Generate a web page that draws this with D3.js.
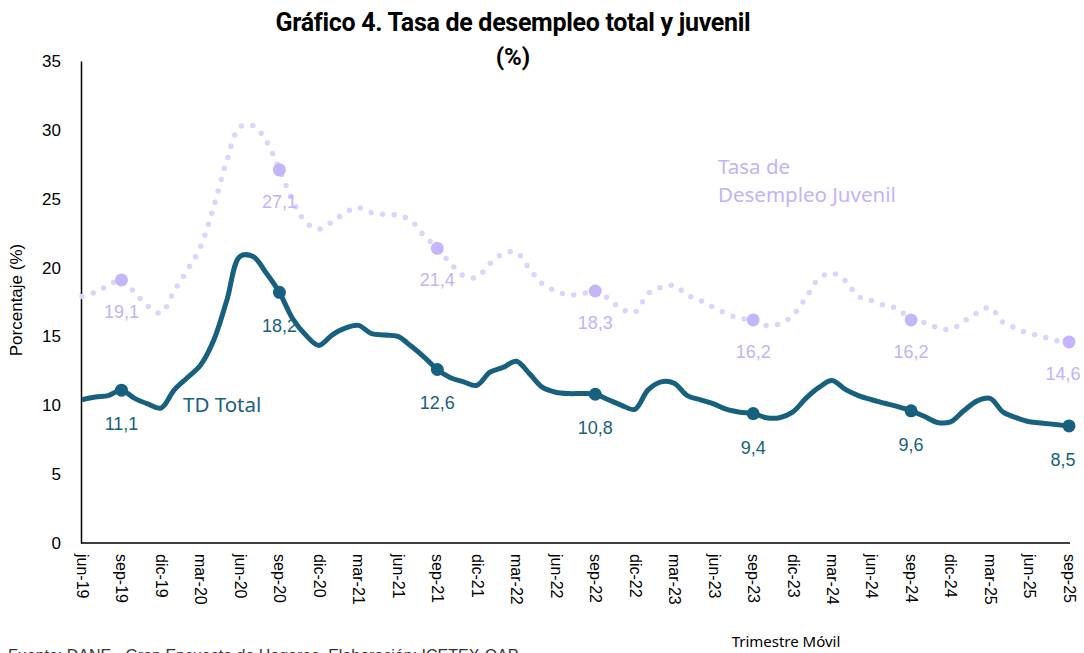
<!DOCTYPE html>
<html>
<head>
<meta charset="utf-8">
<script src="https://cdn.jsdelivr.net/npm/d3@7"></script>
<style>
  body { margin: 0; background: #fff; }
  svg { display: block; }
</style>
</head>
<body>
<div id="chart"></div>
<script>
// categories: moving quarter, jun-19 .. sep-25
var mesesAbrev = ["ene","feb","mar","abr","may","jun","jul","ago","sep","oct","nov","dic"]
var meses = []
for (var a = 2019; a <= 2025; a++) {
  for (var m = 0; m < 12; m++) {
    if (a == 2019 && m < 5) continue
    if (a == 2025 && m > 8) continue
    meses.push(mesesAbrev[m] + "-" + String(a).slice(2))
  }
}
var mesesEje = ["jun-19","sep-19","dic-19","mar-20","jun-20","sep-20","dic-20","mar-21","jun-21","sep-21","dic-21","mar-22",
  "jun-22","sep-22","dic-22","mar-23","jun-23","sep-23","dic-23","mar-24","jun-24","sep-24","dic-24","mar-25","jun-25","sep-25"]

// TD total (%)
var tdTotal = [
  10.4, 10.6, 10.7, 11.1, 10.5, 10.1, 9.8,
  11.1, 12.0, 12.9, 14.7, 17.6, 20.8, 20.8, 19.6, 18.2, 16.3, 15.1, 14.35,
  15.1, 15.6, 15.8, 15.2, 15.1, 15.0, 14.3, 13.5, 12.6, 12.0, 11.7, 11.45,
  12.4, 12.75, 13.2, 12.3, 11.3, 10.95, 10.85, 10.85, 10.8, 10.4, 10.0, 9.7,
  11.1, 11.7, 11.6, 10.7, 10.4, 10.1, 9.7, 9.5, 9.4, 9.1, 9.1, 9.5,
  10.5, 11.3, 11.8, 11.15, 10.7, 10.4, 10.15, 9.9, 9.6, 9.2, 8.75, 8.8,
  9.6, 10.3, 10.5, 9.5, 9.1, 8.8, 8.7, 8.6, 8.5
]

// Tasa de desempleo juvenil (%)
var tdJuvenil = [
  17.9, 18.2, 18.7, 19.1, 18.2, 17.2, 16.7,
  18.3, 19.8, 21.5, 24.4, 27.75, 30.2, 30.3, 29.2, 27.1, 24.9, 23.3, 22.8,
  23.3, 24.0, 24.35, 24.0, 23.85, 23.8, 23.4, 22.3, 21.4, 20.3, 19.4, 19.3,
  20.3, 21.0, 21.1, 19.9, 18.8, 18.3, 18.0, 18.1, 18.3, 17.75, 17.0, 16.75,
  18.1, 18.55, 18.7, 18.0, 17.6, 17.1, 16.65, 16.3, 16.2, 15.8, 15.9, 16.5,
  17.8, 19.2, 19.6, 19.05, 17.9, 17.6, 17.25, 17.0, 16.2, 16.0, 15.65, 15.5,
  16.1, 16.7, 17.1, 16.0, 15.6, 15.2, 15.0, 14.7, 14.6
]

// months that carry a marker and a label
var mesesEtiqueta = ["sep-19","sep-20","sep-21","sep-22","sep-23","sep-24","sep-25"]
var yTicks = [0, 5, 10, 15, 20, 25, 30, 35]

var colorTotal = "#17617e"
var colorJuvenil = "#c6b5fb"
var colorPuntos = "#ddd4fd"

var width = 1084, height = 653
var margin = {top: 61, left: 82, right: 15, bottom: 110}

var svg = d3.select("#chart").append("svg")
  .attr("width", width)
  .attr("height", height)

var x = d3.scalePoint()
  .domain(meses)
  .range([margin.left, width - margin.right])

var y = d3.scaleLinear()
  .domain([0, 35])
  .range([height - margin.bottom, margin.top])

// Title
svg.append("text")
  .attr("x", 513).attr("y", 31)
  .attr("text-anchor", "middle")
  .style("font-family", "Roboto, sans-serif")
  .style("font-weight", "700")
  .style("font-size", "25px")
  .style("letter-spacing", "-0.3px")
  .text("Gráfico 4. Tasa de desempleo total y juvenil")
svg.append("text")
  .attr("x", 513).attr("y", 65)
  .attr("text-anchor", "middle")
  .style("font-family", "Roboto, sans-serif")
  .style("font-weight", "700")
  .style("font-size", "24px")
  .text("(%)")

// Axes
var yAxis = d3.axisLeft(y).tickValues(yTicks).tickSize(0).tickPadding(20)
var gy = svg.append("g")
  .attr("transform", "translate(" + (margin.left - 1) + ",0)")
  .call(yAxis)
gy.select(".domain").attr("stroke", "#000").attr("stroke-width", 1.5)
gy.selectAll("text")
  .style("font-family", "'Liberation Sans', Arial, sans-serif")
  .style("font-size", "17px")
  .attr("fill", "#000")

var xAxis = d3.axisBottom(x).tickValues(mesesEje).tickSize(0)
var gx = svg.append("g")
  .attr("transform", "translate(0," + (height - margin.bottom) + ")")
  .call(xAxis)
gx.select(".domain").attr("stroke", "#000").attr("stroke-width", 1.5)
  .attr("d", "M" + (margin.left - 1) + ",0H" + (width - margin.right + 1))
gx.selectAll("text")
  .attr("transform", "rotate(90)")
  .attr("x", 11).attr("y", 0).attr("dy", "0.35em")
  .style("text-anchor", "start")
  .style("font-family", "'Liberation Sans', Arial, sans-serif")
  .style("font-size", "16px")
  .attr("fill", "#000")

// Axis titles
svg.append("text")
  .attr("transform", "translate(22,300) rotate(-90)")
  .attr("text-anchor", "middle")
  .style("font-family", "'Liberation Sans', Arial, sans-serif")
  .style("font-size", "17px")
  .text("Porcentaje (%)")

svg.append("text")
  .attr("x", 786).attr("y", 647)
  .attr("text-anchor", "middle")
  .style("font-family", "'Noto Sans', sans-serif")
  .style("font-size", "15px")
  .text("Trimestre Móvil")

// Source (partly cut by the bottom edge, as in the original)
svg.append("text")
  .attr("x", 8).attr("y", 661)
  .style("font-family", "'Liberation Sans', Arial, sans-serif")
  .style("font-size", "16px")
  .attr("fill", "#333")
  .text("Fuente: DANE - Gran Encuesta de Hogares. Elaboración: ICETEX-OAP")

// Lines
var line = function(values) {
  return d3.line()
    .x(function(d, i) { return x(meses[i]) })
    .y(function(d) { return y(d) })
    .curve(d3.curveCatmullRom.alpha(0.5))(values)
}

svg.append("path")
  .attr("d", line(tdJuvenil))
  .attr("fill", "none")
  .attr("stroke", colorPuntos)
  .attr("stroke-width", 5.5)
  .attr("stroke-linecap", "round")
  .attr("stroke-dasharray", "0 11.6")

svg.append("path")
  .attr("d", line(tdTotal))
  .attr("fill", "none")
  .attr("stroke", colorTotal)
  .attr("stroke-width", 5)
  .attr("stroke-linejoin", "round")

// Markers and labels
var fmt = function(v) { return d3.format(".1f")(v).replace(".", ",") }

function marcas(values, color, labelColor, dy) {
  var pts = mesesEtiqueta.map(function(mes) {
    return {mes: mes, v: values[meses.indexOf(mes)]}
  })
  svg.append("g").selectAll("circle")
    .data(pts).enter()
    .append("circle")
    .attr("cx", function(d) { return x(d.mes) })
    .attr("cy", function(d) { return y(d.v) })
    .attr("r", 6.5)
    .attr("fill", color)
  svg.append("g").selectAll("text")
    .data(pts).enter()
    .append("text")
    .attr("x", function(d) { return Math.min(x(d.mes), width - 21) })
    .attr("y", function(d) { return y(d.v) + dy })
    .attr("text-anchor", "middle")
    .style("font-family", "'Liberation Sans', Arial, sans-serif")
    .style("font-size", "18px")
    .attr("fill", labelColor)
    .text(function(d) { return fmt(d.v) })
}
marcas(tdJuvenil, colorJuvenil, "#c3b2f9", 38)
marcas(tdTotal, colorTotal, "#1a5f7a", 40)

// Series names
svg.append("text")
  .attr("x", 183).attr("y", 412)
  .style("font-family", "'Noto Sans', sans-serif")
  .style("font-size", "20.5px")
  .attr("fill", colorTotal)
  .text("TD Total")

var leyJ = svg.append("text")
  .attr("x", 718).attr("y", 174)
  .style("font-family", "'Noto Sans', sans-serif")
  .style("font-size", "20.5px")
  .attr("fill", "#c3b2f9")
leyJ.append("tspan").attr("x", 718).text("Tasa de")
leyJ.append("tspan").attr("x", 718).attr("dy", 28).text("Desempleo Juvenil")
</script>
</body>
</html>
